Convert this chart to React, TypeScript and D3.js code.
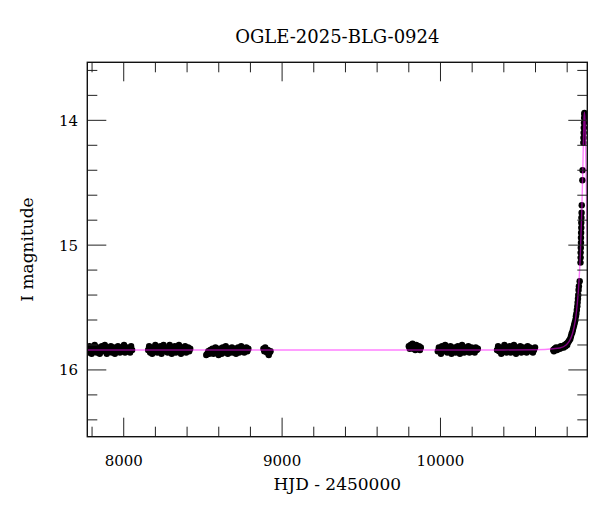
import * as d3 from "d3";

const title = "OGLE-2025-BLG-0924";
const xLabel = "HJD - 2450000";
const yLabel = "I magnitude";

const xDomain = [7770, 10927];
const yDomain = [13.535, 16.535];
const xMajorTicks = [8000, 9000, 10000];
const yMajorTicks = [14, 15, 16];

// observing seasons at baseline: [first HJD, last HJD]
const seasonRanges: [number, number][] = [
  [7772, 8053],
  [8154, 8420],
  [8521, 8787],
  [8882, 8927],
  [9800, 9876],
  [9983, 10236],
  [10357, 10597],
];

// I magnitudes read per season (spread over the season)
const seasonMags: number[][] = [
  [15.83, 15.86, 15.81, 15.84, 15.87, 15.82, 15.85, 15.80, 15.84, 15.86, 15.82, 15.83, 15.87, 15.84, 15.81, 15.85, 15.83, 15.80, 15.84, 15.87, 15.82, 15.85, 15.83, 15.81, 15.86, 15.84, 15.82, 15.87, 15.83, 15.85, 15.81, 15.84, 15.86, 15.82, 15.85, 15.83, 15.80, 15.86, 15.84, 15.82, 15.85, 15.83, 15.86, 15.81, 15.84],
  [15.84, 15.81, 15.86, 15.83, 15.87, 15.82, 15.85, 15.80, 15.84, 15.86, 15.82, 15.85, 15.81, 15.87, 15.83, 15.80, 15.85, 15.84, 15.82, 15.86, 15.83, 15.80, 15.85, 15.87, 15.82, 15.84, 15.81, 15.86, 15.83, 15.85, 15.80, 15.84, 15.87, 15.82, 15.85, 15.83, 15.81, 15.86, 15.84, 15.82, 15.85, 15.83],
  [15.88, 15.87, 15.85, 15.87, 15.84, 15.86, 15.83, 15.87, 15.85, 15.82, 15.86, 15.84, 15.88, 15.83, 15.85, 15.87, 15.82, 15.86, 15.84, 15.81, 15.85, 15.87, 15.83, 15.86, 15.84, 15.82, 15.86, 15.85, 15.83, 15.87, 15.84, 15.82, 15.86, 15.84, 15.81, 15.85, 15.83, 15.86, 15.84, 15.82, 15.85, 15.83],
  [15.83, 15.85, 15.82, 15.84, 15.86, 15.84, 15.88, 15.86, 15.85],
  [15.81, 15.83, 15.80, 15.82, 15.79, 15.83, 15.81, 15.84, 15.80, 15.82, 15.83, 15.81, 15.84, 15.82],
  [15.85, 15.82, 15.84, 15.87, 15.81, 15.85, 15.83, 15.80, 15.84, 15.86, 15.82, 15.85, 15.81, 15.87, 15.83, 15.85, 15.82, 15.86, 15.84, 15.81, 15.85, 15.87, 15.83, 15.80, 15.84, 15.86, 15.82, 15.85, 15.83, 15.81, 15.86, 15.84, 15.82, 15.85, 15.83, 15.86, 15.82, 15.84, 15.83],
  [15.84, 15.81, 15.85, 15.83, 15.87, 15.82, 15.85, 15.80, 15.84, 15.86, 15.82, 15.85, 15.81, 15.86, 15.83, 15.85, 15.80, 15.84, 15.87, 15.82, 15.85, 15.83, 15.81, 15.86, 15.84, 15.82, 15.85, 15.83, 15.86, 15.81, 15.84, 15.82, 15.85, 15.83, 15.86, 15.84, 15.82],
];

// 2025 season (rise to the peak)
const riseT = [
  10712, 10716, 10720, 10725, 10730, 10736, 10742, 10748, 10754, 10760, 10766, 10772, 10778, 10784,
  10790, 10795, 10800, 10805, 10810, 10815, 10820, 10824, 10828, 10832, 10836, 10840, 10844, 10848,
  10852, 10855, 10858, 10861, 10864, 10866, 10868, 10870, 10872, 10874, 10879, 10884, 10885, 10885,
  10886, 10887, 10887, 10888, 10889, 10889, 10890, 10891, 10892, 10896, 10897, 10902, 10903, 10904,
  10905, 10906, 10907, 10908, 10909,
];
const riseMag = [
  15.84, 15.85, 15.83, 15.84, 15.82, 15.84, 15.83, 15.82, 15.83, 15.81, 15.82, 15.81, 15.82, 15.8,
  15.81, 15.79, 15.8, 15.78, 15.77, 15.76, 15.75, 15.73, 15.71, 15.7, 15.68, 15.66, 15.64, 15.62,
  15.6, 15.57, 15.55, 15.52, 15.49, 15.46, 15.43, 15.4, 15.36, 15.33, 15.29, 15.14, 15.1, 15.06,
  15.02, 14.98, 14.94, 14.9, 14.86, 14.82, 14.78, 14.74, 14.68, 14.48, 14.4, 14.18, 14.14, 14.1,
  14.06, 14.02, 13.98, 13.95, 13.94,
];

// model curve
const modelT = [
  7770, 8500, 9500, 10400, 10600, 10713, 10753, 10793, 10813, 10833, 10843, 10853, 10863, 10873,
  10883, 10893, 10898, 10903, 10906, 10909, 10912, 10915, 10921, 10927,
];
const modelMag = [
  15.84, 15.84, 15.84, 15.84, 15.838, 15.83, 15.824, 15.8, 15.77, 15.71, 15.66, 15.59, 15.48, 15.32,
  15.08, 14.69, 14.43, 14.14, 13.99, 13.935, 13.99, 14.14, 14.55, 15.0,
];

const W = 600;
const H = 512;
const left = 87.3;
const right = 587.3;
const top = 62.3;
const bottom = 436.7;
const font = "'DejaVu Serif', serif";

export default function App() {
  const x = d3.scaleLinear().domain(xDomain).range([left, right]);
  const y = d3.scaleLinear().domain(yDomain).range([top, bottom]);

  const points: [number, number][] = [];
  seasonRanges.forEach(([a, b], i) => {
    const mags = seasonMags[i];
    mags.forEach((m, j) => {
      const t = mags.length > 1 ? a + ((b - a) * j) / (mags.length - 1) : a;
      points.push([t, m]);
    });
  });
  riseT.forEach((t, i) => points.push([t, riseMag[i]]));

  const line = d3
    .line<number>()
    .x((_, i) => x(modelT[i]))
    .y((m) => y(m))
    .curve(d3.curveMonotoneX);

  const xMinor = d3.range(7800, 10927, 200).filter((v) => !xMajorTicks.includes(v));
  const yMinor = d3.range(13.6, 16.54, 0.2).map((v) => +v.toFixed(1)).filter((v) => !yMajorTicks.includes(v));

  return (
    <svg width={W} height={H} style={{ position: "absolute", left: 0, top: 0, background: "#fff" }}>
      <defs>
        <clipPath id="plot">
          <rect x={left} y={top} width={right - left} height={bottom - top} />
        </clipPath>
      </defs>
      <g clipPath="url(#plot)">
        {points.map(([t, m], i) => (
          <circle key={i} cx={x(t)} cy={y(m)} r={3.2} fill="#000" />
        ))}
        <path d={line(modelMag) ?? ""} fill="none" stroke="#ff00ff" strokeOpacity={0.5} strokeWidth={1.4} />
      </g>

      <g stroke="#222" strokeWidth={1}>
        {xMajorTicks.map((v) => (
          <g key={"xM" + v}>
            <line x1={x(v)} x2={x(v)} y1={bottom} y2={bottom - 19} />
            <line x1={x(v)} x2={x(v)} y1={top} y2={top + 19} />
          </g>
        ))}
        {xMinor.map((v) => (
          <g key={"xm" + v}>
            <line x1={x(v)} x2={x(v)} y1={bottom} y2={bottom - 10} />
            <line x1={x(v)} x2={x(v)} y1={top} y2={top + 10} />
          </g>
        ))}
        {yMajorTicks.map((v) => (
          <g key={"yM" + v}>
            <line x1={left} x2={left + 19} y1={y(v)} y2={y(v)} />
            <line x1={right} x2={right - 19} y1={y(v)} y2={y(v)} />
          </g>
        ))}
        {yMinor.map((v) => (
          <g key={"ym" + v}>
            <line x1={left} x2={left + 10} y1={y(v)} y2={y(v)} />
            <line x1={right} x2={right - 10} y1={y(v)} y2={y(v)} />
          </g>
        ))}
      </g>
      <rect x={left} y={top} width={right - left} height={bottom - top} fill="none" stroke="#111" strokeWidth={1.4} />

      <g fontFamily={font} fontSize={15} fill="#000">
        {xMajorTicks.map((v) => (
          <text key={"xl" + v} x={x(v)} y={466} textAnchor="middle">
            {v}
          </text>
        ))}
        {yMajorTicks.map((v) => (
          <text key={"yl" + v} x={78} y={y(v) + 5.5} textAnchor="end">
            {v}
          </text>
        ))}
      </g>
      <text x={(left + right) / 2} y={43} textAnchor="middle" fontFamily={font} fontSize={18}>
        {title}
      </text>
      <text x={(left + right) / 2} y={490} textAnchor="middle" fontFamily={font} fontSize={17}>
        {xLabel}
      </text>
      <text
        transform={`translate(33, ${(top + bottom) / 2}) rotate(-90)`}
        textAnchor="middle"
        fontFamily={font}
        fontSize={17}
      >
        {yLabel}
      </text>
    </svg>
  );
}
